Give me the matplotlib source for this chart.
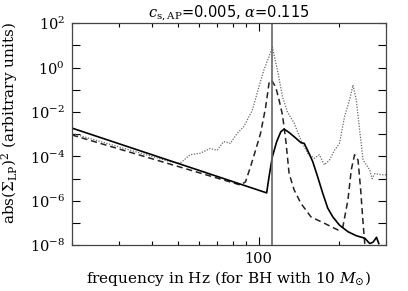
import math
import matplotlib
matplotlib.use('Agg')
import matplotlib.pyplot as plt
from matplotlib.ticker import LogLocator, FixedLocator, NullFormatter, FuncFormatter

plt.rcParams['mathtext.fontset'] = 'dejavuserif'

# solid curve
f_solid = [20, 107.2, 109.4, 112.6, 116.9, 121.1, 124.6, 129.0, 135.9, 144.0, 148.2,
           152.6, 159.5, 166.5, 173.9, 181.6, 189.7, 200.9, 216.1, 232.3, 249.7,
           260.8, 268.7, 276.4, 282.0]
p_solid = [1.9e-3, 2.3e-6, 1.2e-5, 9.8e-5, 4.7e-4, 1.3e-3, 1.7e-3, 1.3e-3, 7.8e-4, 4.2e-4, 3.9e-4,
           1.9e-4, 5.9e-5, 1.2e-5, 2.2e-6, 4.7e-7, 1.9e-7, 8.1e-8, 4.1e-8, 2.7e-8, 2.1e-8,
           1.2e-8, 1.4e-8, 2.3e-8, 1.2e-8]

# dashed curve
f_dash = [20, 85.5, 89.3, 93.3, 97.4, 101.7, 106.3, 109.4, 111.7, 115.9, 119.3, 122.9,
          126.4, 130.1, 135.9, 144.0, 157.1, 176.4, 198.2, 206.9, 216.1, 222.4, 228.8,
          235.8, 241.2, 246.3, 250.5]
p_dash = [9.3e-4, 5.2e-6, 7.2e-6, 3.5e-5, 1.9e-4, 1.1e-3, 1.7e-2, 0.2, 0.28, 0.135, 0.035, 7.4e-3,
          5.5e-4, 1.7e-5, 3.1e-6, 7.8e-7, 1.9e-7, 9.8e-8, 4.9e-8, 6.9e-8, 1.1e-6, 2.5e-5, 1.2e-4,
          6.9e-5, 3.1e-6, 9.8e-8, 8e-9]

# dotted curve
f_dot = [20, 46.5, 50.8, 55.4, 60.4, 65.9, 69.9, 74.0, 78.4, 83.1, 88.0, 90.7, 94.7, 100.3,
         104.7, 109.4, 112.6, 117.6, 122.9, 128.3, 135.9, 144.0, 152.6, 161.7, 168.8, 176.4,
         184.2, 192.4, 200.9, 209.8, 219.1, 225.7, 232.3, 239.1, 246.3, 253.4, 260.8, 266.3,
         272.4, 288.6, 304]
p_dot = [1.1e-3, 5.9e-5, 4.9e-5, 1.2e-4, 1.4e-4, 2.3e-4, 1.9e-4, 4.7e-4, 3.9e-4, 1.1e-3, 2.2e-3,
         4.4e-3, 1.2e-2, 0.14, 0.79, 3.1, 8.5, 0.79, 0.049, 0.01, 3.2e-3, 5.5e-4, 1.4e-4, 8.3e-5,
         1.2e-4, 4.2e-5, 6.9e-5, 1.9e-4, 3.9e-4, 6.2e-3, 0.035, 0.166, 0.035, 1.5e-3, 6.9e-5,
         4.2e-5, 2.5e-5, 1.0e-5, 1.7e-5, 1.5e-5, 1.5e-5]

f_mark = 112.6


def ylab(v, pos):
    k = round(math.log10(v))
    return r'$10^{%d}$' % k if k % 2 == 0 else ''


fig = plt.figure(figsize=(4.08, 2.91), dpi=100)
ax = fig.add_axes([0.1765, 0.157, 0.7695, 0.763])

ax.plot(f_dot, p_dot, color='#666666', lw=0.9, dashes=(1, 1.2))
ax.plot(f_dash, p_dash, color='#222222', lw=1.1, dashes=(4, 2.5))
ax.plot(f_solid, p_solid, '-', color='black', lw=1.2)
ax.axvline(f_mark, color='#666666', lw=1.2)

ax.set_xscale('log')
ax.set_yscale('log')
ax.set_xlim(20, 300)
ax.set_ylim(1e-8, 1e2)

ax.yaxis.set_major_locator(FixedLocator([10.0**k for k in range(-8, 3)]))
ax.yaxis.set_minor_locator(FixedLocator([]))
ax.yaxis.set_major_formatter(FuncFormatter(ylab))
ax.xaxis.set_major_locator(FixedLocator([100]))
ax.xaxis.set_minor_locator(LogLocator(base=10, subs=range(2, 10)))
ax.xaxis.set_minor_formatter(NullFormatter())
ax.xaxis.set_major_formatter(FuncFormatter(lambda v, p: '100'))

ax.tick_params(which='both', direction='in', top=True, right=True, labelsize=10.5, width=0.8)
ax.tick_params(which='major', length=6, pad=5)
ax.tick_params(which='minor', length=3)
for s in ax.spines.values():
    s.set_linewidth(0.9)
    s.set_color('#444444')

for lbl in ax.get_xticklabels() + ax.get_yticklabels():
    lbl.set_family('DejaVu Serif')

ax.set_title(r'$c_{\rm s,AP}$=0.005, $\alpha$=0.115', fontsize=10.5, pad=3)
ax.set_xlabel(r'frequency in Hz (for BH with 10 $M_{\odot}$)', family='DejaVu Serif', fontsize=11, labelpad=2)
ax.set_ylabel(r'abs($\Sigma_{\rm LP}$)$^2$ (arbitrary units)', family='DejaVu Serif', fontsize=11, labelpad=2)
ax.yaxis.set_label_coords(-0.165, 0.55)

fig.savefig('out.png', dpi=100)
